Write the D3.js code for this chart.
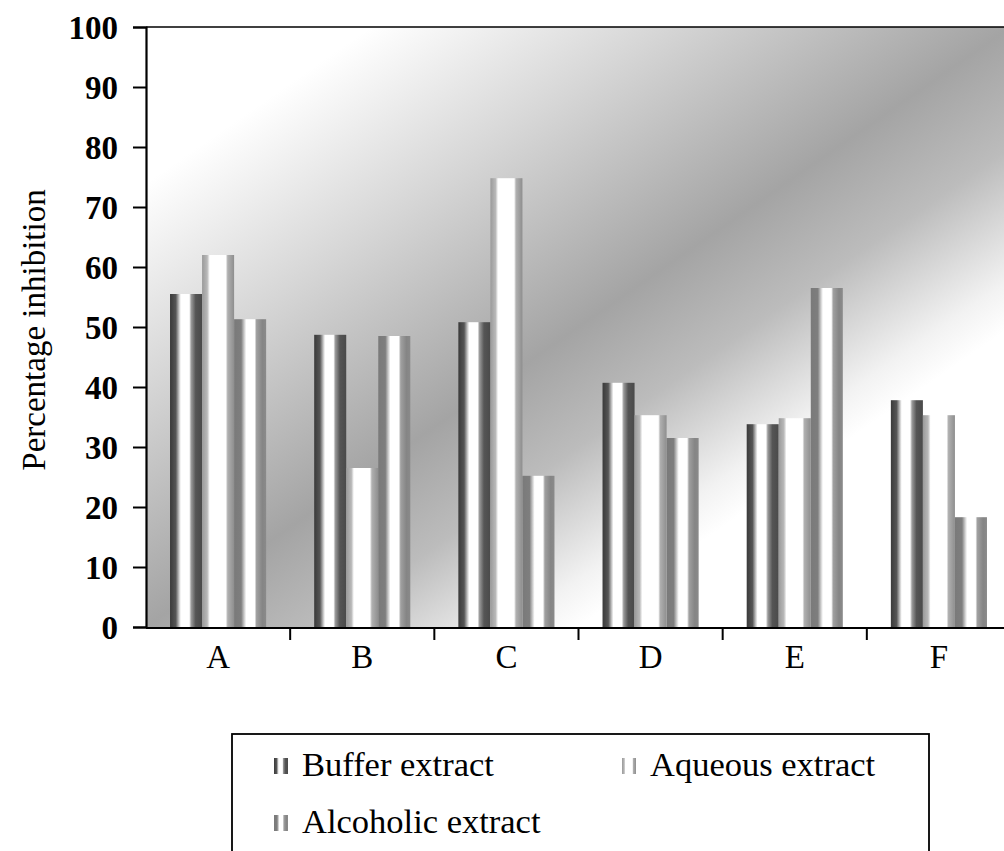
<!DOCTYPE html>
<html>
<head>
<meta charset="utf-8">
<script src="https://cdn.jsdelivr.net/npm/d3@7/dist/d3.min.js"></script>
<style>
  html, body { margin: 0; padding: 0; background: #fff; }
  svg { display: block; }
  text { font-family: "Liberation Serif", "Times New Roman", serif; fill: #000; }
</style>
</head>
<body>
<div id="chart"></div>
<script>
// Percentage inhibition by extract type
const categories = ["A", "B", "C", "D", "E", "F"];
const seriesNames = ["Buffer extract", "Aqueous extract", "Alcoholic extract"];
const bufferValues = [55.5, 48.7, 50.8, 40.7, 33.8, 37.8];
const aqueousValues = [62.0, 26.5, 74.8, 35.3, 34.8, 35.3];
const alcoholicValues = [51.3, 48.5, 25.2, 31.5, 56.5, 18.3];
const yTicks = [0, 10, 20, 30, 40, 50, 60, 70, 80, 90, 100];

const seriesValues = [bufferValues, aqueousValues, alcoholicValues];
const seriesKeys = ["buffer", "aqueous", "alcoholic"];

const W = 1004, H = 851;
const plot = { left: 146, top: 27, right: 1011, bottom: 627 };

const svg = d3.select("#chart").append("svg")
  .attr("width", W).attr("height", H);

const defs = svg.append("defs");

// diagonal light-dark-light wash behind the bars
const bg = defs.append("linearGradient")
  .attr("id", "bgWash")
  .attr("x1", 0).attr("y1", 0).attr("x2", 1).attr("y2", 1);
[[0, "#ffffff"], [0.13, "#ffffff"], [0.3, "#d6d6d6"], [0.5, "#a4a4a4"],
 [0.6, "#bcbcbc"], [0.71, "#f2f2f2"], [0.75, "#ffffff"], [1, "#ffffff"]]
  .forEach(([o, c]) => bg.append("stop").attr("offset", o).attr("stop-color", c));

// cylinder-like shading for each series
const barShades = {
  buffer: [[0, "#3a3a3a"], [0.18, "#555555"], [0.3, "#d8d8d8"], [0.34, "#ffffff"],
           [0.6, "#ffffff"], [0.66, "#9a9a9a"], [0.8, "#555555"], [1, "#4a4a4a"]],
  aqueous: [[0, "#9a9a9a"], [0.16, "#b8b8b8"], [0.24, "#ffffff"],
            [0.74, "#ffffff"], [0.8, "#b0b0b0"], [1, "#8e8e8e"]],
  alcoholic: [[0, "#7a7a7a"], [0.22, "#7e7e7e"], [0.34, "#e0e0e0"], [0.38, "#ffffff"],
              [0.64, "#ffffff"], [0.7, "#a0a0a0"], [0.88, "#858585"], [1, "#8a8a8a"]]
};
Object.entries(barShades).forEach(([k, stops]) => {
  const g = defs.append("linearGradient").attr("id", "shade-" + k)
    .attr("x1", 0).attr("y1", 0).attr("x2", 1).attr("y2", 0);
  stops.forEach(([o, c]) => g.append("stop").attr("offset", o).attr("stop-color", c));
});

// scales
const x0 = d3.scaleBand()
  .domain(categories)
  .range([plot.left, plot.right])
  .paddingInner(1 / 3)
  .paddingOuter(1 / 6);
const x1 = d3.scaleBand()
  .domain(seriesKeys)
  .range([0, x0.bandwidth()]);
const y = d3.scaleLinear().domain([0, 100]).range([plot.bottom, plot.top]);

// plot background
svg.append("rect")
  .attr("x", plot.left).attr("y", plot.top)
  .attr("width", plot.right - plot.left).attr("height", plot.bottom - plot.top)
  .attr("fill", "url(#bgWash)");

// bars
const groups = svg.append("g").selectAll("g")
  .data(categories)
  .join("g")
  .attr("transform", d => `translate(${x0(d)},0)`);

groups.selectAll("rect")
  .data((d, i) => seriesKeys.map((k, s) => ({ key: k, value: seriesValues[s][i] })))
  .join("rect")
  .attr("x", d => x1(d.key))
  .attr("width", x1.bandwidth())
  .attr("y", d => y(d.value))
  .attr("height", d => y(0) - y(d.value))
  .attr("fill", d => `url(#shade-${d.key})`);

// top frame line
svg.append("line")
  .attr("x1", plot.left).attr("x2", plot.right)
  .attr("y1", plot.top).attr("y2", plot.top)
  .attr("stroke", "#000").attr("stroke-width", 1.6);

// y axis
const yAxis = svg.append("g")
  .attr("transform", `translate(${plot.left},0)`)
  .call(d3.axisLeft(y).tickValues(yTicks).tickSize(13).tickPadding(15).tickFormat(d3.format("d")));
yAxis.select(".domain").attr("stroke-width", 2.2);
yAxis.selectAll(".tick line").attr("stroke-width", 2);
yAxis.selectAll(".tick text")
  .style("font-family", "'Liberation Serif', serif")
  .style("font-size", "33px")
  .style("font-weight", "bold")
  .attr("dy", "0.34em");

// x axis: ticks sit on the category boundaries
const step = x0.step();
const boundaries = categories.map(c => x0(c) - step * x0.paddingInner() / 2);
const xAxisG = svg.append("g").attr("transform", `translate(0,${plot.bottom + 1})`);
xAxisG.append("line")
  .attr("x1", plot.left).attr("x2", plot.right)
  .attr("stroke", "#000").attr("stroke-width", 2.2);
xAxisG.selectAll("line.tk")
  .data(boundaries.slice(1))
  .join("line").attr("class", "tk")
  .attr("x1", d => d).attr("x2", d => d)
  .attr("y1", 0).attr("y2", 12)
  .attr("stroke", "#000").attr("stroke-width", 2);
xAxisG.selectAll("text")
  .data(categories)
  .join("text")
  .attr("x", d => x0(d) + x0.bandwidth() / 2)
  .attr("y", 40)
  .attr("text-anchor", "middle")
  .style("font-size", "33px")
  .text(d => d);

// y axis title
svg.append("text")
  .attr("transform", "translate(45,330) rotate(-90)")
  .attr("text-anchor", "middle")
  .style("font-size", "33px")
  .text("Percentage inhibition");

// legend
const legend = svg.append("g");
legend.append("rect")
  .attr("x", 232).attr("y", 734)
  .attr("width", 697).attr("height", 140)
  .attr("fill", "#fff").attr("stroke", "#000").attr("stroke-width", 1.8);

const legendPos = [
  { x: 274, y: 776 },
  { x: 622, y: 776 },
  { x: 274, y: 833 }
];
const items = legend.selectAll("g.item")
  .data(seriesKeys)
  .join("g").attr("class", "item")
  .attr("transform", (d, i) => `translate(${legendPos[i].x},${legendPos[i].y})`);
items.append("rect")
  .attr("x", 0).attr("y", -18)
  .attr("width", 14).attr("height", 16)
  .attr("fill", d => `url(#shade-${d})`);
items.append("text")
  .attr("x", 28).attr("y", 0)
  .style("font-size", "34.5px")
  .text((d, i) => seriesNames[i]);
</script>
</body>
</html>
